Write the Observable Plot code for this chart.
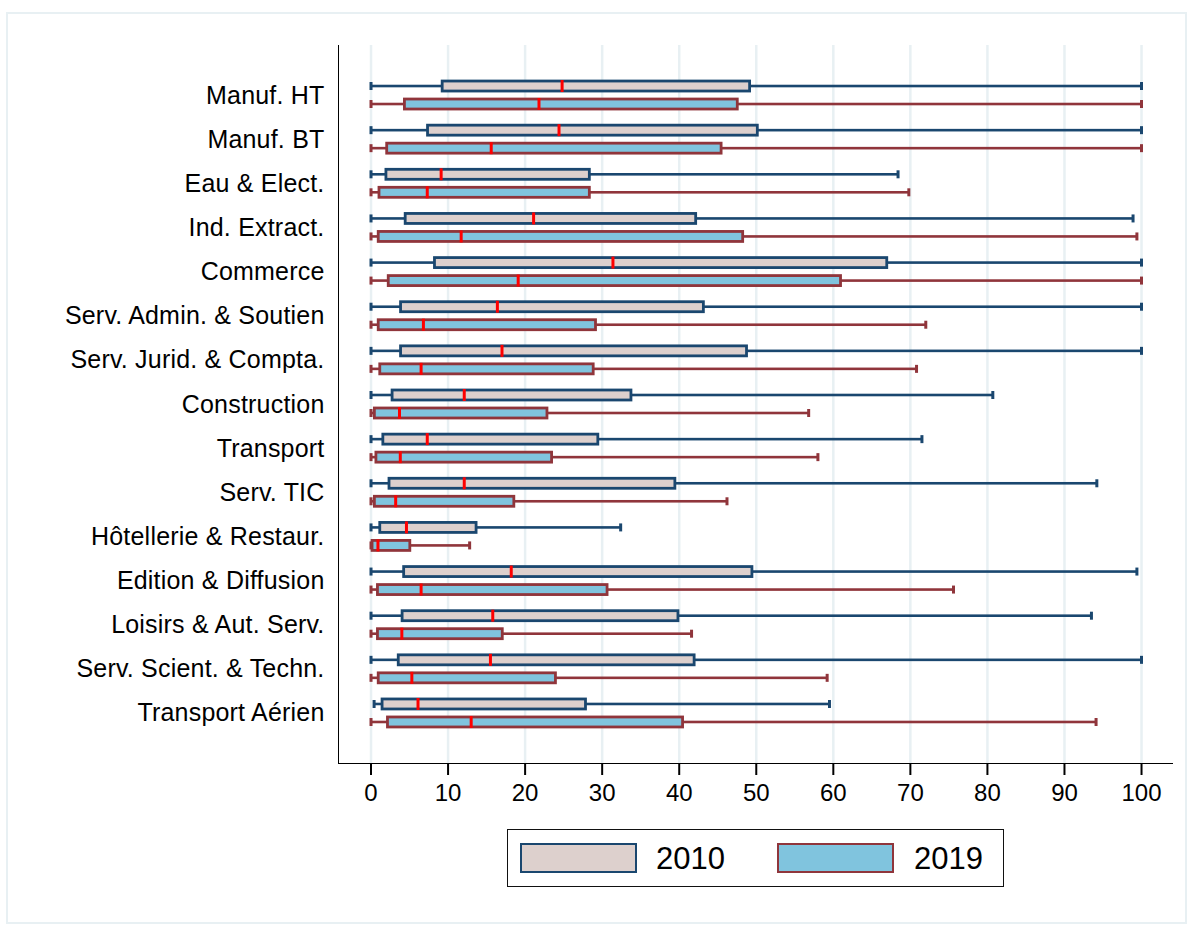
<!DOCTYPE html>
<html>
<head>
<meta charset="utf-8">
<script src="https://cdn.jsdelivr.net/npm/d3@7"></script>
<script src="https://cdn.jsdelivr.net/npm/@observablehq/plot@0.6"></script>
<style>
  body { margin: 0; background: #fff; font-family: "Liberation Sans", Arial, sans-serif; }
  #frame { position: absolute; left: 6px; top: 12px; width: 1177px; height: 908px; border: 2px solid #e8f0f3; }
  #chart { position: absolute; left: 0; top: 0; }
  #legend { position: absolute; left: 507px; top: 829px; width: 495px; height: 56px; border: 1.5px solid #111; background: #fff; }
  .sw { position: absolute; top: 13px; width: 113px; height: 26px; border: 2.5px solid; }
  .lab { position: absolute; top: 13px; font-size: 31px; line-height: 31px; color: #000; }
  g[aria-label="y-axis tick label"] text { font-size: 25px; letter-spacing: 0.2px; }
</style>
</head>
<body>
<div id="frame"></div>
<div id="chart"></div>
<div id="legend"></div>
<script>
const categories = ["Manuf. HT", "Manuf. BT", "Eau & Elect.", "Ind. Extract.", "Commerce",
  "Serv. Admin. & Soutien", "Serv. Jurid. & Compta.", "Construction", "Transport", "Serv. TIC",
  "Hôtellerie & Restaur.", "Edition & Diffusion", "Loisirs & Aut. Serv.", "Serv. Scient. & Techn.", "Transport Aérien"];

const years = ["2010", "2019"];

const min2010 = [0, 0, 0, 0, 0, 0, 0, 0, 0, 0, 0, 0, 0, 0, 0.4];
const q1_2010 = [9.3, 7.4, 2.0, 4.5, 8.3, 3.9, 3.9, 2.8, 1.6, 2.4, 1.2, 4.3, 4.1, 3.6, 1.5];
const med2010 = [24.8, 24.4, 9.1, 21.1, 31.4, 16.4, 17.0, 12.1, 7.3, 12.1, 4.6, 18.2, 15.8, 15.5, 6.1];
const q3_2010 = [49.2, 50.2, 28.4, 42.2, 67.0, 43.2, 48.8, 33.8, 29.5, 39.5, 13.7, 49.5, 39.9, 42.0, 27.9];
const max2010 = [100, 100, 68.4, 98.9, 100, 100, 100, 80.7, 71.5, 94.2, 32.4, 99.4, 93.5, 100, 59.5];

const min2019 = [0, 0, 0, 0, 0, 0, 0, 0, 0, 0, 0, 0, 0, 0, 0];
const q1_2019 = [4.4, 2.1, 1.1, 1.0, 2.3, 1.0, 1.2, 0.5, 0.7, 0.5, 0.2, 0.9, 0.9, 1.0, 2.2];
const med2019 = [21.8, 15.6, 7.3, 11.7, 19.1, 6.8, 6.5, 3.7, 3.8, 3.2, 0.9, 6.5, 4.0, 5.3, 13.0];
const q3_2019 = [47.6, 45.5, 28.4, 48.3, 61.0, 29.2, 28.9, 22.9, 23.5, 18.6, 5.1, 30.7, 17.1, 24.0, 40.5];
const max2019 = [100, 100, 69.8, 99.4, 100, 72.0, 70.8, 56.8, 58.0, 46.2, 12.8, 75.6, 41.6, 59.2, 94.1];

const xTicks = [0, 10, 20, 30, 40, 50, 60, 70, 80, 90, 100];

const styles = {
  "2010": {line: "#1a476f", fill: "#ddd0cd", dy: -9},
  "2019": {line: "#90353b", fill: "#80c4de", dy: 9}
};

function rows(mins, q1s, meds, q3s, maxs) {
  return categories.map((cat, i) => ({cat, min: mins[i], q1: q1s[i], med: meds[i], q3: q3s[i], max: maxs[i]}));
}
const data = {
  "2010": rows(min2010, q1_2010, med2010, q3_2010, max2010),
  "2019": rows(min2019, q1_2019, med2019, q3_2019, max2019)
};

function boxMarks(year) {
  const d = data[year], s = styles[year];
  return [
    Plot.barX(d, {x1: "min", x2: "max", y: "cat", fill: s.line, insetTop: 3.7, insetBottom: 3.7, dy: s.dy}),
    Plot.tickX(d, {x: "min", y: "cat", stroke: s.line, strokeWidth: 3, insetTop: 1, insetBottom: 1, dy: s.dy}),
    Plot.tickX(d, {x: "max", y: "cat", stroke: s.line, strokeWidth: 3, insetTop: 1, insetBottom: 1, dy: s.dy}),
    Plot.barX(d, {x1: "q1", x2: "q3", y: "cat", fill: s.fill, stroke: s.line, strokeWidth: 2.8, dy: s.dy}),
    Plot.tickX(d, {x: "med", y: "cat", stroke: "#ff0000", strokeWidth: 3, insetTop: -1, insetBottom: -1, dy: s.dy})
  ];
}

const chart = Plot.plot({
  width: 1192,
  height: 810,
  marginLeft: 338,
  marginRight: 20,
  marginTop: 45,
  marginBottom: 47,
  style: {fontFamily: "'Liberation Sans', Arial, sans-serif", fontSize: "24px", color: "#000", background: "transparent"},
  x: {domain: [-4.22, 104.02], ticks: xTicks, tickSize: 12, tickPadding: 8, line: true, label: null, tickFormat: d => String(d)},
  y: {domain: categories, paddingInner: 0.7734, paddingOuter: 1.02, round: false, tickSize: 0, tickPadding: 14, line: true, label: null},
  marks: [
    Plot.ruleX(xTicks, {stroke: "#e8f0f3", strokeWidth: 2.5}),
    ...boxMarks("2010"),
    ...boxMarks("2019")
  ]
});
document.getElementById("chart").appendChild(chart);

chart.querySelectorAll('g[aria-label*="axis"]').forEach(g => {
  const lab = g.getAttribute("aria-label");
  if (!/label/.test(lab)) g.setAttribute("stroke-width", 2);
});

// legend
const legend = document.getElementById("legend");
const legendPos = {"2010": {sw: 12, lab: 148}, "2019": {sw: 269, lab: 406}};
years.forEach(y => {
  const sw = document.createElement("div");
  sw.className = "sw";
  sw.style.left = legendPos[y].sw + "px";
  sw.style.background = styles[y].fill;
  sw.style.borderColor = styles[y].line;
  legend.appendChild(sw);
  const lab = document.createElement("div");
  lab.className = "lab";
  lab.style.left = legendPos[y].lab + "px";
  lab.textContent = y;
  legend.appendChild(lab);
});
</script>
</body>
</html>
